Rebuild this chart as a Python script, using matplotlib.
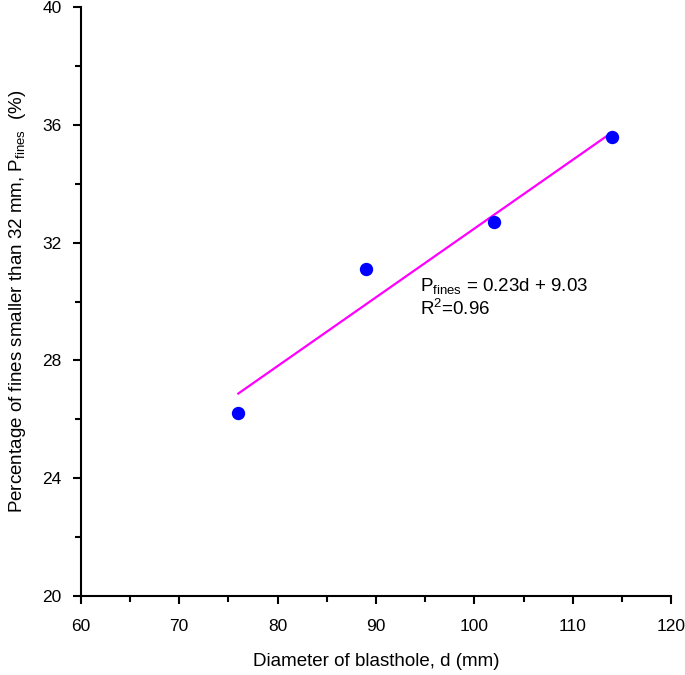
import matplotlib
matplotlib.use("Agg")
import matplotlib.pyplot as plt
from matplotlib.ticker import MultipleLocator

plt.rcParams['font.family'] = ['Liberation Sans', 'DejaVu Sans']
plt.rcParams['mathtext.fontset'] = 'custom'
plt.rcParams['mathtext.rm'] = 'Liberation Sans'
plt.rcParams['mathtext.it'] = 'Liberation Sans:italic'

diameter = [76, 89, 102, 114]
p_fines = [26.2, 31.1, 32.7, 35.6]
fit_slope = 0.2335
fit_intercept = 9.13
fit_range = [76, 114]
x_ticks = [60, 70, 80, 90, 100, 110, 120]
y_ticks = [20, 24, 28, 32, 36, 40]

fig = plt.figure(figsize=(6.85, 6.75), dpi=100)
ax = fig.add_axes([0.118, 0.117, 0.862, 0.8726])

fit_y = [fit_slope * x + fit_intercept for x in fit_range]
ax.plot(fit_range, fit_y, color='#ff00ff', lw=1.6, zorder=2)
ax.plot(diameter, p_fines, 'o', color='#0000ff', markersize=8.6, zorder=3)

ax.set_xlim(60, 120)
ax.set_ylim(20, 40)
ax.set_xticks(x_ticks)
ax.set_yticks(y_ticks)
ax.xaxis.set_minor_locator(MultipleLocator(5))
ax.yaxis.set_minor_locator(MultipleLocator(2))
for s in ['top', 'right']:
    ax.spines[s].set_visible(False)
for s in ['left', 'bottom']:
    ax.spines[s].set_linewidth(1.5)
ax.tick_params(which='major', direction='out', length=6, width=1.5, labelsize=12.5)
ax.tick_params(axis='x', which='major', pad=10.5)
ax.tick_params(axis='y', which='major', pad=8)
ax.tick_params(which='minor', direction='out', length=4, width=1.5)

ax.set_xlabel('Diameter of blasthole, d (mm)', fontsize=13.5, labelpad=14)
ax.set_ylabel(r'Percentage of fines smaller than 32 mm, P$_{\mathregular{fines}}$  (%)', fontsize=13.5, labelpad=10)

ax.text(94.5, 30.85, r'P$_{\mathregular{fines}}$ = 0.23d + 9.03' + '\n' + r'R$^{\mathregular{2}}$=0.96',
        fontsize=13.5, va='top', ha='left', linespacing=1.15)

fig.savefig('out.png', dpi=100)
